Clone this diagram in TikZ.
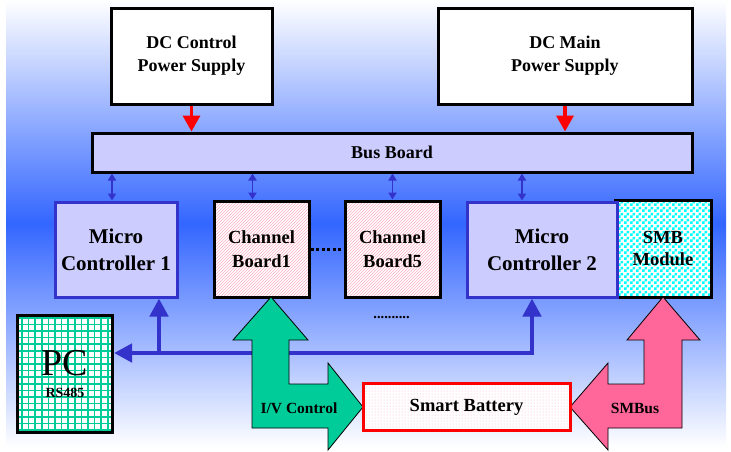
\documentclass[tikz,border=0pt]{standalone}
\usepackage{fontspec}
\setmainfont{Liberation Serif}
\usetikzlibrary{arrows.meta,patterns}

\definecolor{bgblue}{RGB}{51,102,255}
\definecolor{lavender}{RGB}{204,204,255}
\definecolor{mcblue}{RGB}{51,51,204}
\definecolor{ivgreen}{RGB}{0,204,153}
\definecolor{smbpink}{RGB}{255,102,153}
\definecolor{hatchpink}{RGB}{255,175,195}
\definecolor{checkcyan}{RGB}{0,255,255}

\pgfdeclarepatternformonly{finechecker}{\pgfpointorigin}{\pgfqpoint{6pt}{6pt}}{\pgfqpoint{6pt}{6pt}}{
  \pgfpathrectangle{\pgfpointorigin}{\pgfqpoint{3pt}{3pt}}
  \pgfpathrectangle{\pgfqpoint{3pt}{3pt}}{\pgfqpoint{3pt}{3pt}}
  \pgfusepath{fill}}

\begin{document}
\begin{tikzpicture}[x=1pt,y=-1pt,
  psbox/.style={draw=black,line width=3pt,fill=white,inner sep=0pt,align=center,
    font=\bfseries\fontsize{18}{23}\selectfont},
  mcbox/.style={draw=mcblue,line width=3pt,fill=lavender,inner sep=0pt,align=center,
    font=\bfseries\fontsize{21}{27}\selectfont},
  chbox/.style={draw=black,line width=3pt,fill=white,inner sep=0pt,align=center,
    font=\bfseries\fontsize{18.5}{24}\selectfont,
    path picture={\fill[pattern=north east lines,pattern color=hatchpink]
      (path picture bounding box.south west) rectangle (path picture bounding box.north east);}},
  redarrow/.style={red,line width=3.5pt,-{Triangle[length=16pt,width=17pt]}},
  linkarrow/.style={mcblue,line width=1.8pt,{Triangle[length=7pt,width=8pt]}-{Triangle[length=7pt,width=8pt]}},
  rsline/.style={mcblue,line width=4.5pt},
  blockarrow/.style={draw=black,line width=0.8pt},
  arrowlabel/.style={font=\bfseries\fontsize{15.5}{18}\selectfont}]
\useasboundingbox (0,0) rectangle (731,451);
\fill[top color=white,bottom color=white,middle color=bgblue] (6,0) rectangle (726,447);

\draw (191.5,56) node[psbox,minimum width=161pt,minimum height=96pt] (dcc) {DC Control\\Power Supply};
\draw (565,56) node[psbox,minimum width=254pt,minimum height=96pt] (dcm) {DC Main\\Power Supply};
\draw (392,152.5) node[psbox,fill=lavender,minimum width=600pt,minimum height=39pt] (bus) {Bus Board};

\draw[redarrow] (dcc.south) -- (dcc.south |- bus.north);
\draw[redarrow] (dcm.south) -- (dcm.south |- bus.north);

\draw (116,249.5) node[mcbox,minimum width=122pt,minimum height=95pt] (mc1) {Micro\\Controller 1};
\draw (261.5,249) node[chbox,minimum width=95pt,minimum height=96pt] (cb1) {Channel\\Board1};
\draw (392.5,249) node[chbox,minimum width=95pt,minimum height=96pt] (cb5) {Channel\\Board5};
\draw (663,248.5) node[chbox,minimum width=96pt,minimum height=97pt,
  font=\bfseries\fontsize{18.5}{22}\selectfont,
  path picture={\fill[pattern=finechecker,pattern color=checkcyan]
    (path picture bounding box.south west) rectangle (path picture bounding box.north east);}] (smb) {SMB\\Module};
\draw (542,249.5) node[mcbox,minimum width=150pt,minimum height=95pt] (mc2) {Micro\\Controller 2};

\coordinate (t1) at ([xshift=-4pt]mc1.north);
\coordinate (t2) at ([xshift=-9pt]cb1.north);
\coordinate (t3) at (cb5.north);
\coordinate (t4) at ([xshift=-20pt]mc2.north);
\foreach \t in {t1,t2,t3,t4}
  \draw[linkarrow] (\t |- bus.south) -- (\t);

\draw[black,line width=3pt,dash pattern=on 3pt off 2.5pt] (cb1.east) -- (cb5.west);
\draw (391.5,318) node[font=\bfseries\fontsize{14.5}{14}\selectfont] (more) {..........};

\draw (65,373.5) node[draw=black,line width=3pt,fill=white,inner sep=0pt,align=center,
  minimum width=95pt,minimum height=117pt,
  path picture={\draw[ivgreen,line width=1.6pt,step=6.6pt]
    (path picture bounding box.south west) grid (path picture bounding box.north east);}] (pc)
  {{\fontsize{38}{34}\selectfont PC}\\[10pt]{\bfseries\fontsize{14}{14}\selectfont RS485}};

\coordinate (k1) at (159,353);
\coordinate (k2) at (532,353);
\draw[rsline,{Triangle[length=18pt,width=18pt]}-{Triangle[length=18pt,width=18pt]}]
  (pc.east |- k1) -- (k2) -- (k2 |- mc2.south);
\draw[rsline,-{Triangle[length=18pt,width=18pt]}] (k1) -- (k1 |- mc1.south);

\draw[blockarrow,fill=ivgreen] (271,297) -- (308,340) -- (289,340) -- (289,384) -- (328,384)
  -- (328,363) -- (363,407) -- (328,450) -- (328,428) -- (252,428) -- (252,340) -- (233,340) -- cycle;
\draw[blockarrow,fill=smbpink] (570,407) -- (608,363) -- (608,384) -- (644,384) -- (644,340)
  -- (627,340) -- (663,297) -- (700,340) -- (682,340) -- (682,428) -- (608,428) -- (608,450) -- cycle;
\draw (299,408) node[arrowlabel] (ivlab) {I/V Control};
\draw (635,408) node[arrowlabel] (smblab) {SMBus};

\draw (466.5,407) node[draw=red,line width=3pt,fill=white,inner sep=0pt,
  minimum width=207pt,minimum height=47pt,font=\bfseries\fontsize{18.5}{22}\selectfont,
  path picture={\fill[pattern=dots,pattern color=hatchpink]
    (path picture bounding box.south west) rectangle (path picture bounding box.north east);}] (bat) {Smart Battery};
\end{tikzpicture}
\end{document}
